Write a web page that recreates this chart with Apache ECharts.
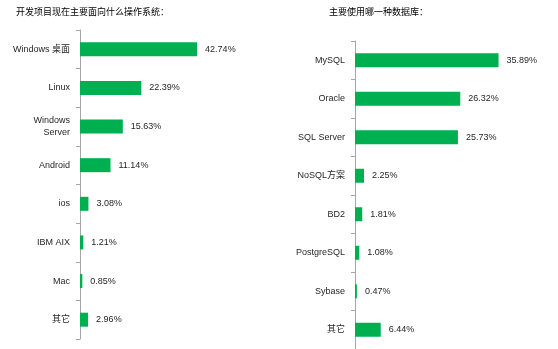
<!DOCTYPE html>
<html>
<head>
<meta charset="utf-8">
<script src="https://cdn.jsdelivr.net/npm/echarts@6/dist/echarts.min.js"></script>
<style>
    html, body { margin: 0; padding: 0; background: #fff; }
    #chart { width: 558px; height: 349px; }
</style>
</head>
<body>
<div id="chart"></div>
<script>
// 操作系统
let osNames = ['Windows 桌面', 'Linux', 'Windows\nServer', 'Android', 'ios', 'IBM AIX', 'Mac', '其它']
let osValues = [42.74, 22.39, 15.63, 11.14, 3.08, 1.21, 0.85, 2.96]

// 数据库
let dbNames = ['MySQL', 'Oracle', 'SQL Server', 'NoSQL方案', 'BD2', 'PostgreSQL', 'Sybase', '其它']
let dbValues = [35.89, 26.32, 25.73, 2.25, 1.81, 1.08, 0.47, 6.44]

let green = '#00b050'
let font = "'Liberation Sans', 'Noto Sans CJK SC', sans-serif"

function catAxis(idx, names) {
    return {
        type: 'category',
        gridIndex: idx,
        inverse: true,
        data: names,
        axisLine: { show: true, lineStyle: { color: '#a6a6a6' } },
        axisTick: { show: true, inside: false, length: 4, lineStyle: { color: '#a6a6a6' } },
        axisLabel: {
            margin: 10,
            fontSize: 9,
            lineHeight: 12,
            color: '#262626',
            fontFamily: font
        }
    }
}

function valAxis(idx, max) {
    return {
        type: 'value',
        gridIndex: idx,
        min: 0,
        max: max,
        show: false
    }
}

function barSeries(idx, values) {
    return {
        type: 'bar',
        xAxisIndex: idx,
        yAxisIndex: idx,
        data: values,
        barWidth: 14,
        itemStyle: { color: green },
        label: {
            show: true,
            position: 'right',
            distance: 8,
            fontSize: 9,
            color: '#262626',
            fontFamily: font,
            formatter: function(p) {
                return p.value.toFixed(2) + '%'
            }
        }
    }
}

let chart = echarts.init(document.getElementById('chart'))
chart.setOption({
    animation: false,
    title: [
        {
            text: '开发项目现在主要面向什么操作系统：',
            left: 11,
            top: 3,
            textStyle: { fontSize: 9, fontWeight: 'normal', color: '#000', fontFamily: font }
        },
        {
            text: '主要使用哪一种数据库：',
            left: 324,
            top: 3,
            textStyle: { fontSize: 9, fontWeight: 'normal', color: '#000', fontFamily: font }
        }
    ],
    grid: [
        { left: 80, top: 30, width: 137, height: 309 },
        { left: 355, top: 41, width: 160, height: 308 }
    ],
    xAxis: [valAxis(0, 50), valAxis(1, 40)],
    yAxis: [catAxis(0, osNames), catAxis(1, dbNames)],
    series: [barSeries(0, osValues), barSeries(1, dbValues)]
})
</script>
</body>
</html>
